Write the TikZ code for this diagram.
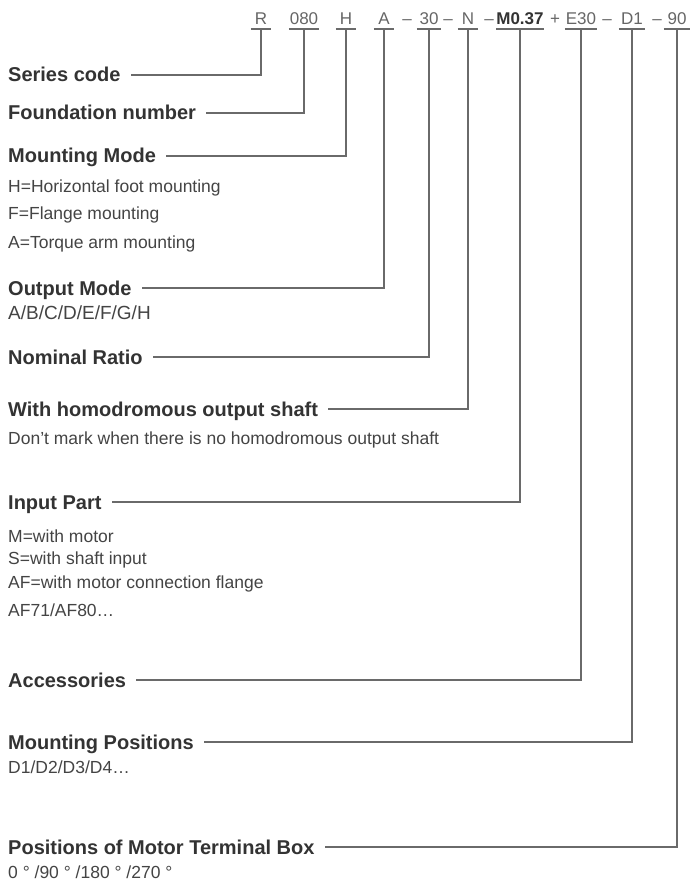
\documentclass[tikz,border=0pt]{standalone}
\usepackage{fontspec}
\setmainfont{Liberation Sans}
\usetikzlibrary{calc}
\definecolor{lblc}{HTML}{333333}
\definecolor{detc}{HTML}{444444}
\definecolor{codec}{HTML}{666666}
\definecolor{linec}{HTML}{6A6A6A}
\begin{document}
\begin{tikzpicture}[x=1pt,y=-1pt,
  lbl/.style={anchor=west,inner sep=0pt,text height=14pt,text depth=0pt,font=\fontsize{20}{23}\selectfont\bfseries,text=lblc},
  det/.style={anchor=west,inner sep=0pt,text height=12pt,text depth=0pt,font=\fontsize{17.5}{20}\selectfont,text=detc},
  code/.style={anchor=south,inner xsep=0pt,inner ysep=0pt,text height=12pt,text depth=4pt,font=\fontsize{17}{20}\selectfont,text=codec},
  conn/.style={draw=linec,line width=1.1pt},
  uline/.style={draw=linec,line width=1.1pt},
]
\fill[white] (0,0) rectangle (692,885);
\useasboundingbox (0,0) rectangle (692,885);

% code line
\node[code,minimum width=20pt] (cR) at (261,29) {R};
\node[code,minimum width=30pt] (c080) at (304,29) {080};
\node[code,minimum width=20pt] (cH) at (346,29) {H};
\node[code,minimum width=20pt] (cA) at (384,29) {A};
\node[code] (d1) at (407,29) {–};
\node[code,minimum width=24pt] (c30) at (429,29) {30};
\node[code] (d2) at (448,29) {–};
\node[code,minimum width=20pt] (cN) at (468,29) {N};
\node[code] (d3) at (489,29) {–};
\node[code,minimum width=44pt,font=\fontsize{17}{20}\selectfont\bfseries,text=lblc] (cM) at (520,29) {M0.37};
\node[code] (pl) at (555,29) {+};
\node[code,minimum width=32pt] (cE) at (581,29) {E30};
\node[code] (d4) at (607,29) {–};
\node[code,minimum width=26pt] (cD) at (632,29) {D1};
\node[code] (d5) at (657,29) {–};
\node[code,minimum width=26pt] (c90) at (677,29) {90};
\foreach \n in {cR,c080,cH,cA,c30,cN,cM,cE,cD,c90}
  \draw[uline] (\n.south west) -- (\n.south east);

% labels
\node[lbl] (lSeries) at (8,75) {Series code};
\node[lbl] (lFound) at (8,113) {Foundation number};
\node[lbl] (lMount) at (8,156) {Mounting Mode};
\node[lbl] (lOut) at (8,288) {Output Mode};
\node[lbl] (lNom) at (8,357) {Nominal Ratio};
\node[lbl] (lHomo) at (8,409) {With homodromous output shaft};
\node[lbl] (lInput) at (8,502) {Input Part};
\node[lbl] (lAcc) at (8,680) {Accessories};
\node[lbl] (lMpos) at (8,742) {Mounting Positions};
\node[lbl] (lTerm) at (8,847) {Positions of Motor Terminal Box};

% details
\node[det] (tH) at (8,187) {H=Horizontal foot mounting};
\node[det] (tF) at (8,214) {F=Flange mounting};
\node[det] (tA) at (8,242) {A=Torque arm mounting};
\node[det,font=\fontsize{19}{21}\selectfont] (tOut) at (8,313) {A/B/C/D/E/F/G/H};
\node[det] (tHomo) at (8,438) {Don't mark when there is no homodromous output shaft};
\node[det] (tM) at (8,536) {M=with motor};
\node[det] (tS) at (8,558) {S=with shaft input};
\node[det] (tAF) at (8,582) {AF=with motor connection flange};
\node[det] (tAF71) at (8,610) {AF71/AF80…};
\node[det] (tD) at (8,767) {D1/D2/D3/D4…};
\node[det] (tDeg) at (8,872) {0 ° /90 ° /180 ° /270 °};

% connectors
\draw[conn] (cR.south) |- ($(lSeries.east)+(10,0)$);
\draw[conn] (c080.south) |- ($(lFound.east)+(10,0)$);
\draw[conn] (cH.south) |- ($(lMount.east)+(10,0)$);
\draw[conn] (cA.south) |- ($(lOut.east)+(10,0)$);
\draw[conn] (c30.south) |- ($(lNom.east)+(10,0)$);
\draw[conn] (cN.south) |- ($(lHomo.east)+(10,0)$);
\draw[conn] (cM.south) |- ($(lInput.east)+(10,0)$);
\draw[conn] (cE.south) |- ($(lAcc.east)+(10,0)$);
\draw[conn] (cD.south) |- ($(lMpos.east)+(10,0)$);
\draw[conn] (c90.south) |- ($(lTerm.east)+(10,0)$);
\end{tikzpicture}
\end{document}
